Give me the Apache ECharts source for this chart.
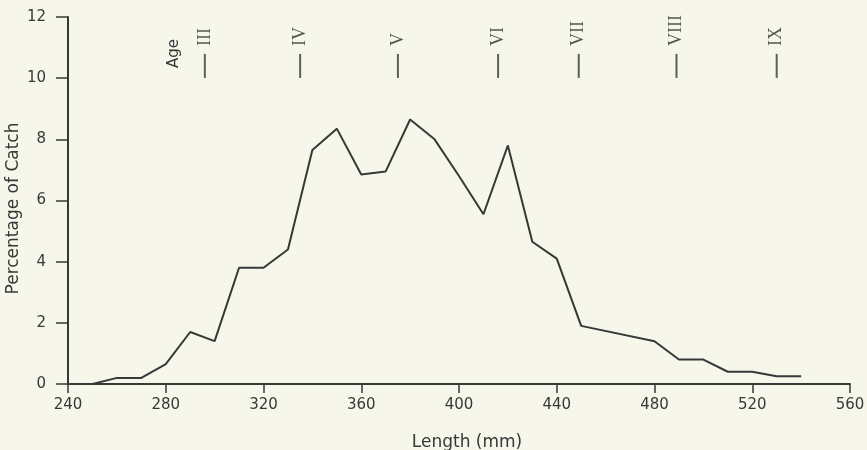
<!DOCTYPE html>
<html>
<head>
<meta charset="utf-8">
<script src="https://cdn.jsdelivr.net/npm/echarts@6/dist/echarts.min.js"></script>
<style>
  html, body { margin: 0; padding: 0; background: #f6f7ea; }
  #chart { width: 867px; height: 450px; }
</style>
</head>
<body>
<div id="chart"></div>
<script>
// length classes (mm) and percentage of catch
var lengths = [250, 260, 270, 280, 290, 300, 310, 320, 330, 340, 350, 360, 370, 380,
               390, 400, 410, 420, 430, 440, 450, 480, 490, 500, 510, 520, 530, 540];
var percents = [0, 0.2, 0.2, 0.65, 1.7, 1.4, 3.8, 3.8, 4.4, 7.65, 8.35, 6.85, 6.95, 8.65,
                8.0, 6.8, 5.55, 7.8, 4.65, 4.1, 1.9, 1.4, 0.8, 0.8, 0.4, 0.4, 0.25, 0.25];

// age marks along the top
var ageLabels = ['III', 'IV', 'V', 'VI', 'VII', 'VIII', 'IX'];
var ageLengths = [296, 335, 375, 416, 449, 489, 530];
var ageMarkY = 10.4;

var xTicks = [240, 280, 320, 360, 400, 440, 480, 520, 560];
var yTicks = [0, 2, 4, 6, 8, 10, 12];

var ink = '#383838';
var font = 'DejaVu Sans';

var catchData = lengths.map(function (l, i) { return [l, percents[i]]; });
var ageData = ageLengths.map(function (l, i) {
    return { value: [l, ageMarkY], name: ageLabels[i] };
});

var myChart = echarts.init(document.getElementById('chart'));

option = {
    backgroundColor: '#f6f7ea',
    animation: false,
    grid: { left: 68, right: 17, top: 17, bottom: 66, containLabel: false, outerBoundsMode: 'none' },
    xAxis: {
        type: 'value',
        min: xTicks[0],
        max: xTicks[xTicks.length - 1],
        interval: 40,
        name: 'Length (mm)',
        nameLocation: 'middle',
        nameGap: 50,
        nameMoveOverlap: false,
        nameTextStyle: { color: ink, fontSize: 17, fontFamily: font, padding: [0, 0, 0, 16] },
        axisLine: { lineStyle: { color: ink, width: 2 } },
        axisTick: { length: 9, lineStyle: { color: ink, width: 1.5 } },
        axisLabel: { color: ink, fontSize: 15, fontFamily: font, margin: 14 },
        splitLine: { show: false }
    },
    yAxis: {
        type: 'value',
        min: yTicks[0],
        max: yTicks[yTicks.length - 1],
        interval: 2,
        name: 'Percentage of Catch',
        nameLocation: 'middle',
        nameGap: 46,
        nameMoveOverlap: false,
        nameTextStyle: { color: ink, fontSize: 17, fontFamily: font, padding: [0, 16, 0, 0] },
        axisLine: { show: true, lineStyle: { color: ink, width: 2 } },
        axisTick: { show: true, length: 12, lineStyle: { color: ink, width: 1.5 } },
        axisLabel: { color: ink, fontSize: 15, fontFamily: font, margin: 22 },
        splitLine: { show: false }
    },
    graphic: [{
        type: 'text',
        x: 174,
        y: 68,
        rotation: Math.PI / 2,
        style: {
            text: 'Age',
            fill: ink,
            font: '15px "DejaVu Sans"',
            textAlign: 'left',
            textVerticalAlign: 'middle'
        }
    }],
    series: [
        {
            type: 'line',
            data: catchData,
            symbol: 'none',
            lineStyle: { color: ink, width: 2 }
        },
        {
            type: 'scatter',
            data: ageData,
            symbol: 'rect',
            symbolSize: [2, 24],
            itemStyle: { color: ink },
            label: {
                show: true,
                position: 'top',
                distance: 8,
                rotate: 90,
                align: 'left',
                verticalAlign: 'middle',
                formatter: '{b}',
                color: '#2a2a2a',
                fontSize: 18,
                fontFamily: 'Liberation Serif'
            }
        }
    ]
};
myChart.setOption(option);
</script>
</body>
</html>
